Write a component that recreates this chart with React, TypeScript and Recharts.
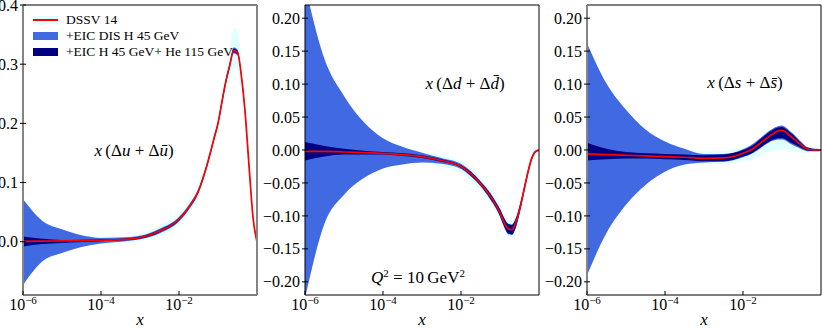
import React from "react";
import { Area, ComposedChart, Line, ReferenceLine, XAxis, YAxis } from "recharts";

// x grid (log spaced), shared by the three panels
const X = [
  1e-6, 3.16e-6, 1e-5, 3.16e-5, 1e-4, 3.16e-4, 1e-3, 3.16e-3, 1e-2, 1.78e-2, 3.16e-2, 5.62e-2,
  0.0794, 0.1, 0.126, 0.158, 0.2, 0.251, 0.316, 0.398, 0.501, 0.631, 0.794, 1,
];

const X_TICKS = [1e-6, 1e-4, 1e-2];
const U_TICKS = [0, 0.1, 0.2, 0.3, 0.4];
const DS_TICKS = [-0.2, -0.15, -0.1, -0.05, 0, 0.05, 0.1, 0.15, 0.2];

// x(Δu + Δū)
const U_CENTRAL = [
  0.0005, 0.001, 0.0015, 0.002, 0.0025, 0.0035, 0.007, 0.018, 0.038, 0.058, 0.086, 0.137,
  0.175, 0.2, 0.236, 0.27, 0.298, 0.323, 0.32, 0.28, 0.215, 0.124, 0.04, 0.0,
];
const U_DSSV = [
  [-0.03, 0.03], [-0.025, 0.025], [-0.015, 0.015], [-0.008, 0.01], [-0.004, 0.009], [-0.002, 0.009],
  [0.001, 0.013], [0.01, 0.027], [0.028, 0.048], [0.047, 0.07], [0.073, 0.1], [0.122, 0.152],
  [0.159, 0.192], [0.182, 0.219], [0.216, 0.257], [0.247, 0.294], [0.272, 0.328], [0.292, 0.362],
  [0.29, 0.355], [0.252, 0.312], [0.188, 0.243], [0.105, 0.145], [0.03, 0.053], [-0.002, 0.002],
];
const U_DIS = [
  [-0.073, 0.072], [-0.033, 0.035], [-0.019, 0.021], [-0.009, 0.011], [-0.003, 0.0065], [0.0, 0.007],
  [0.004, 0.01], [0.014, 0.022], [0.034, 0.042], [0.054, 0.062], [0.082, 0.09], [0.133, 0.141],
  [0.171, 0.179], [0.196, 0.204], [0.231, 0.241], [0.265, 0.275], [0.293, 0.303], [0.318, 0.328],
  [0.315, 0.325], [0.275, 0.285], [0.21, 0.22], [0.12, 0.128], [0.037, 0.043], [-0.001, 0.001],
];
const U_COMB = [
  [-0.008, 0.009], [-0.004, 0.005], [-0.002, 0.003], [-0.0005, 0.0035], [0.001, 0.004], [0.002, 0.005],
  [0.005, 0.009], [0.016, 0.02], [0.036, 0.04], [0.056, 0.06], [0.084, 0.088], [0.135, 0.139],
  [0.173, 0.177], [0.198, 0.202], [0.233, 0.239], [0.267, 0.273], [0.295, 0.301], [0.32, 0.326],
  [0.317, 0.323], [0.277, 0.283], [0.212, 0.218], [0.122, 0.126], [0.038, 0.042], [-0.0005, 0.0005],
];

// x(Δd + Δd̄)
const D_CENTRAL = [
  -0.002, -0.002, -0.003, -0.004, -0.005, -0.007, -0.01, -0.016, -0.025, -0.036, -0.051, -0.07,
  -0.084, -0.095, -0.109, -0.119, -0.121, -0.111, -0.091, -0.065, -0.038, -0.015, -0.003, 0.0,
];
const D_DSSV = [
  [-0.05, 0.05], [-0.04, 0.035], [-0.03, 0.025], [-0.02, 0.012], [-0.015, 0.004], [-0.015, 0.0],
  [-0.018, -0.003], [-0.025, -0.009], [-0.035, -0.017], [-0.046, -0.027], [-0.062, -0.041], [-0.081, -0.059],
  [-0.095, -0.072], [-0.106, -0.082], [-0.12, -0.095], [-0.13, -0.105], [-0.132, -0.108], [-0.122, -0.098],
  [-0.101, -0.079], [-0.074, -0.055], [-0.046, -0.03], [-0.021, -0.009], [-0.006, 0.0], [-0.001, 0.001],
];
const D_DIS = [
  [-0.225, 0.25], [-0.112, 0.138], [-0.068, 0.082], [-0.043, 0.043], [-0.028, 0.018], [-0.022, 0.005],
  [-0.019, -0.004], [-0.021, -0.012], [-0.029, -0.021], [-0.04, -0.032], [-0.055, -0.047], [-0.075, -0.065],
  [-0.089, -0.079], [-0.101, -0.089], [-0.116, -0.102], [-0.127, -0.111], [-0.129, -0.113], [-0.119, -0.104],
  [-0.097, -0.085], [-0.07, -0.06], [-0.042, -0.034], [-0.018, -0.012], [-0.005, -0.001], [-0.001, 0.001],
];
const D_COMB = [
  [-0.016, 0.012], [-0.01, 0.006], [-0.007, 0.002], [-0.007, -0.001], [-0.007, -0.003], [-0.009, -0.005],
  [-0.012, -0.008], [-0.018, -0.014], [-0.027, -0.023], [-0.039, -0.033], [-0.054, -0.048], [-0.074, -0.066],
  [-0.088, -0.08], [-0.1, -0.09], [-0.115, -0.103], [-0.126, -0.112], [-0.128, -0.114], [-0.118, -0.105],
  [-0.096, -0.086], [-0.069, -0.061], [-0.041, -0.035], [-0.017, -0.013], [-0.004, -0.002], [-0.0005, 0.0005],
];

// x(Δs + Δs̄)
const S_CENTRAL = [
  -0.006, -0.007, -0.008, -0.009, -0.01, -0.011, -0.0125, -0.012, -0.005, 0.002, 0.013, 0.024,
  0.029, 0.03, 0.027, 0.022, 0.017, 0.012, 0.007, 0.003, 0.0008, 0.0003, 0.0, 0.0,
];
const S_DSSV = [
  [-0.05, 0.04], [-0.04, 0.03], [-0.03, 0.02], [-0.025, 0.008], [-0.02, 0.0], [-0.02, -0.001],
  [-0.021, -0.002], [-0.021, -0.001], [-0.017, 0.003], [-0.013, 0.01], [-0.007, 0.019], [-0.002, 0.028],
  [0.0, 0.032], [0.001, 0.033], [0.001, 0.031], [0.0, 0.026], [-0.002, 0.021], [-0.003, 0.016],
  [-0.004, 0.011], [-0.005, 0.006], [-0.004, 0.004], [-0.003, 0.003], [-0.002, 0.002], [-0.001, 0.001],
];
const S_DIS = [
  [-0.19, 0.162], [-0.126, 0.101], [-0.083, 0.061], [-0.053, 0.031], [-0.033, 0.013], [-0.022, 0.002],
  [-0.019, -0.006], [-0.018, -0.006], [-0.011, 0.001], [-0.005, 0.009], [0.005, 0.021], [0.014, 0.032],
  [0.016, 0.036], [0.016, 0.037], [0.014, 0.034], [0.01, 0.029], [0.007, 0.024], [0.004, 0.018],
  [0.001, 0.012], [-0.001, 0.006], [-0.002, 0.003], [-0.002, 0.002], [-0.002, 0.002], [-0.001, 0.001],
];
const S_COMB = [
  [-0.016, 0.011], [-0.014, 0.002], [-0.013, -0.003], [-0.013, -0.005], [-0.014, -0.006], [-0.015, -0.007],
  [-0.017, -0.008], [-0.017, -0.007], [-0.01, 0.0], [-0.004, 0.007], [0.006, 0.019], [0.015, 0.03],
  [0.018, 0.034], [0.018, 0.035], [0.016, 0.032], [0.012, 0.027], [0.009, 0.022], [0.006, 0.016],
  [0.003, 0.01], [0.0, 0.005], [-0.001, 0.003], [-0.0015, 0.002], [-0.0015, 0.0015], [-0.001, 0.001],
];

const FONT = '"Liberation Serif", "DejaVu Serif", serif';
const CYAN = "#e0ffff";
const BLUE = "#4169e1";
const NAVY = "#000080";
const RED = "#ff0000";
const GREY = "#858585";

function XTick({ x, y, payload }: any) {
  const e = Math.round(Math.log10(payload.value));
  return (
    <g>
      <line x1={x} x2={x} y1={y} y2={y - 4} stroke="#000" />
      <text x={x} y={y + 15} textAnchor="middle" fontFamily={FONT} fontSize={16} fill="#000">
        10
        <tspan dy={-6} fontSize={11}>
          {"\u2212" + Math.abs(e)}
        </tspan>
      </text>
    </g>
  );
}

function makeYTick(digits: number) {
  return ({ x, y, payload }: any) => {
    const v = payload.value;
    const s = Math.abs(v) < 1e-9 ? (0).toFixed(digits) : v.toFixed(digits).replace("-", "\u2212");
    return (
      <g>
        <line x1={x - 3} x2={x + 3} y1={y} y2={y} stroke="#000" />
        <text x={x - 5} y={y} dy="0.35em" textAnchor="end" fontFamily={FONT} fontSize={16} fill="#000">
          {s}
        </text>
      </g>
    );
  };
}

function Panel({
  left,
  width,
  yWidth,
  rightMargin,
  domain,
  ticks,
  digits,
  central,
  dssv,
  dis,
  comb,
  sides,
}: {
  left: number;
  width: number;
  yWidth: number;
  rightMargin: number;
  domain: [number, number];
  ticks: number[];
  digits: number;
  central: number[];
  dssv: number[][];
  dis: number[][];
  comb: number[][];
  sides: [string, string];
}) {
  const data = X.map((x, i) => ({ x, c: central[i], dssv: dssv[i], dis: dis[i], comb: comb[i] }));
  const side = (c: string) => ({ stroke: c, strokeWidth: c === "#000" ? 1 : 2 });
  return (
    <div style={{ position: "absolute", left, top: 0 }}>
      <ComposedChart width={width} height={328} data={data} margin={{ top: 5, right: rightMargin, left: 0, bottom: 0 }}>
        <XAxis
          dataKey="x"
          type="number"
          scale="log"
          domain={[1e-6, 1]}
          ticks={X_TICKS}
          interval={0}
          height={33}
          tickSize={0}
          tickMargin={0}
          axisLine={false}
          tickLine={false}
          tick={XTick}
          allowDataOverflow
          label={{
            value: "x",
            position: "insideBottom",
            offset: 3,
            style: { fontFamily: FONT, fontStyle: "italic", fontSize: 17, fill: "#000" },
          }}
        />
        <YAxis
          type="number"
          domain={domain}
          ticks={ticks}
          interval={0}
          width={yWidth}
          tickSize={0}
          tickMargin={0}
          axisLine={false}
          tickLine={false}
          tick={makeYTick(digits)}
          allowDataOverflow
        />
        <Area type="monotone" dataKey="dssv" stroke="none" fill={CYAN} fillOpacity={1} isAnimationActive={false} activeDot={false} />
        <Area type="monotone" dataKey="dis" stroke="none" fill={BLUE} fillOpacity={1} isAnimationActive={false} activeDot={false} />
        <Area type="monotone" dataKey="comb" stroke="none" fill={NAVY} fillOpacity={1} isAnimationActive={false} activeDot={false} />
        <Line type="monotone" dataKey="c" stroke={RED} strokeWidth={1.7} dot={false} activeDot={false} isAnimationActive={false} />
        <ReferenceLine y={domain[1]} stroke="#000" ifOverflow="visible" />
        <ReferenceLine y={domain[0]} stroke="#000" ifOverflow="visible" />
        <ReferenceLine x={1e-6} ifOverflow="visible" {...side(sides[0])} />
        <ReferenceLine x={1} ifOverflow="visible" {...side(sides[1])} />
      </ComposedChart>
    </div>
  );
}

function Txt({ cx, cy, size = 17, children }: { cx: number; cy: number; size?: number; children: React.ReactNode }) {
  return (
    <div
      style={{
        position: "absolute",
        left: cx,
        top: cy,
        transform: "translate(-50%, -50%)",
        whiteSpace: "nowrap",
        fontFamily: FONT,
        fontSize: size,
        lineHeight: 1,
        color: "#000",
      }}
    >
      {children}
    </div>
  );
}

const I = ({ children }: { children: React.ReactNode }) => <i>{children}</i>;

function LegendRow({ y, label, fill, line }: { y: number; label: string; fill: string; line?: boolean }) {
  return (
    <>
      <div style={{ position: "absolute", left: 33, top: y - 4, width: 25, height: 8, background: fill }}>
        {line && <div style={{ position: "absolute", left: 0, top: 3, width: 25, height: 2, background: RED }} />}
      </div>
      <div
        style={{
          position: "absolute",
          left: 66,
          top: y - 8,
          height: 16,
          lineHeight: "16px",
          fontFamily: FONT,
          fontSize: 13.5,
          whiteSpace: "nowrap",
          color: "#000",
        }}
      >
        {label}
      </div>
    </>
  );
}

export default function App() {
  return (
    <div style={{ position: "absolute", left: 0, top: 0, width: 822, height: 328, background: "#fff", overflow: "hidden" }}>
      <Panel
        left={0}
        width={260}
        yWidth={23}
        rightMargin={3}
        domain={[-0.09, 0.4]}
        ticks={U_TICKS}
        digits={1}
        central={U_CENTRAL}
        dssv={U_DSSV}
        dis={U_DIS}
        comb={U_COMB}
        sides={[GREY, GREY]}
      />
      <Panel
        left={262}
        width={280}
        yWidth={43}
        rightMargin={3}
        domain={[-0.22, 0.22]}
        ticks={DS_TICKS}
        digits={2}
        central={D_CENTRAL}
        dssv={D_DSSV}
        dis={D_DIS}
        comb={D_COMB}
        sides={["#000", "#000"]}
      />
      <Panel
        left={545}
        width={277}
        yWidth={42}
        rightMargin={1}
        domain={[-0.22, 0.22]}
        ticks={DS_TICKS}
        digits={2}
        central={S_CENTRAL}
        dssv={S_DSSV}
        dis={S_DIS}
        comb={S_COMB}
        sides={[GREY, "#000"]}
      />

      <LegendRow y={20} label="DSSV 14" fill={CYAN} line />
      <LegendRow y={36} label="+EIC DIS H 45 GeV" fill={BLUE} />
      <LegendRow y={52} label="+EIC H 45 GeV+ He 115 GeV" fill={NAVY} />

      <Txt cx={134} cy={150}>
        <I>x</I>&thinsp;(Δ<I>u</I> + Δ<I>ū</I>)
      </Txt>
      <Txt cx={465} cy={83}>
        <I>x</I>&thinsp;(Δ<I>d</I> + Δ<I>{"d\u0304"}</I>)
      </Txt>
      <Txt cx={745} cy={82}>
        <I>x</I>&thinsp;(Δ<I>s</I> + Δ<I>{"s\u0304"}</I>)
      </Txt>
      <Txt cx={418} cy={277}>
        <I>Q</I>
        <sup style={{ fontSize: 11 }}>2</sup> = 10&thinsp;GeV<sup style={{ fontSize: 11 }}>2</sup>
      </Txt>
    </div>
  );
}
